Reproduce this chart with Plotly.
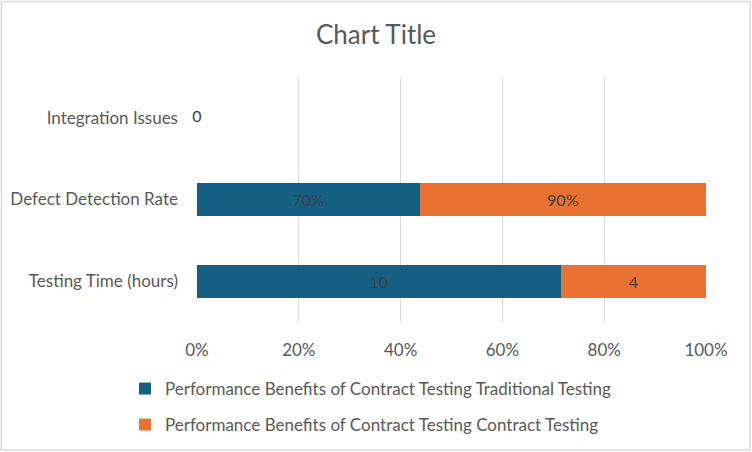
import plotly.graph_objects as go

categories = ["Testing Time (hours)", "Defect Detection Rate", "Integration Issues"]
traditional = [10, 0.7, 0]
contract = [4, 0.9, 0]
traditional_labels = ["10", "70%", "0"]
contract_labels = ["4", "90%", "0"]
x_ticks = [0, 20, 40, 60, 80, 100]
x_tick_labels = ["0%", "20%", "40%", "60%", "80%", "100%"]
series_names = ["Performance Benefits of Contract Testing Traditional Testing",
                "Performance Benefits of Contract Testing Contract Testing"]

totals = [a + b for a, b in zip(traditional, contract)]
trad_pct = [a / t * 100 if t else 0 for a, t in zip(traditional, totals)]
con_pct = [b / t * 100 if t else 0 for b, t in zip(contract, totals)]

FONT = "Lato"
W, H = 752, 452
ml, mr, mt, mb = 197, 46, 77, 130
pw, ph = W - ml - mr, H - mt - mb

fig = go.Figure()
fig.add_trace(go.Bar(
    y=categories, x=trad_pct, orientation="h", name=series_names[0],
    marker=dict(color="#156082", line=dict(width=0)),
    text=[l if t else "" for l, t in zip(traditional_labels, totals)],
    textposition="inside", insidetextanchor="middle",
    textfont=dict(color="#404040", size=16, family=FONT),
    legend="legend", hoverinfo="skip",
))
fig.add_trace(go.Bar(
    y=categories, x=con_pct, orientation="h", name=series_names[1],
    marker=dict(color="#E97132", line=dict(width=0)),
    text=[l if t else "" for l, t in zip(contract_labels, totals)],
    textposition="inside", insidetextanchor="middle",
    textfont=dict(color="#404040", size=16, family=FONT),
    legend="legend2", hoverinfo="skip",
))
# labels for categories with zero total
zero_cats = [c for c, t in zip(categories, totals) if not t]
zero_labels = [l for l, t in zip(traditional_labels, totals) if not t]
fig.add_trace(go.Scatter(
    y=zero_cats, x=[0] * len(zero_cats), mode="text", text=zero_labels,
    textposition="middle center", textfont=dict(color="#404040", size=16, family=FONT),
    showlegend=False, hoverinfo="skip", cliponaxis=False,
))

def legend_at(top_px):
    return dict(orientation="v", x=(125 - ml) / pw, xanchor="left",
                y=-(top_px - mt - ph) / ph, yanchor="top",
                font=dict(size=17, color="#595959"), itemwidth=30,
                bgcolor="rgba(0,0,0,0)")

fig.update_layout(
    width=W, height=H,
    margin=dict(l=ml, r=mr, t=mt, b=mb, autoexpand=False),
    paper_bgcolor="white", plot_bgcolor="white",
    barmode="stack", bargap=0.6,
    font=dict(family=FONT, color="#595959", size=17),
    title=dict(text="Chart Title", x=0.5, xanchor="center", y=1 - 35 / H, yanchor="middle",
               font=dict(size=26, color="#595959", family=FONT)),
    xaxis=dict(range=[0, 100], tickvals=x_ticks, ticktext=x_tick_labels,
               showgrid=True, gridcolor="#D9D9D9", gridwidth=1, zeroline=False,
               showline=False, ticks="", ticklabelstandoff=16, automargin=False,
               tickfont=dict(size=17, color="#595959"), fixedrange=True),
    yaxis=dict(categoryorder="array", categoryarray=categories, showgrid=False,
               showline=False, zeroline=False, ticks="", ticklabelstandoff=18,
               automargin=False,
               tickfont=dict(size=17, color="#595959"), fixedrange=True),
    legend=legend_at(371),
    legend2=legend_at(407),
    shapes=[dict(type="rect", xref="paper", yref="paper",
                 x0=-(ml - 1.5) / pw, x1=1 + (mr - 2) / pw,
                 y0=-(mb - 2) / ph, y1=1 + (mt - 1.5) / ph,
                 line=dict(color="#D9D9D9", width=1.5), layer="below")],
    showlegend=True,
)
fig.write_html("out.html", config={"displayModeBar": False},
               post_script="document.body.style.margin='0';document.body.style.padding='0';")
